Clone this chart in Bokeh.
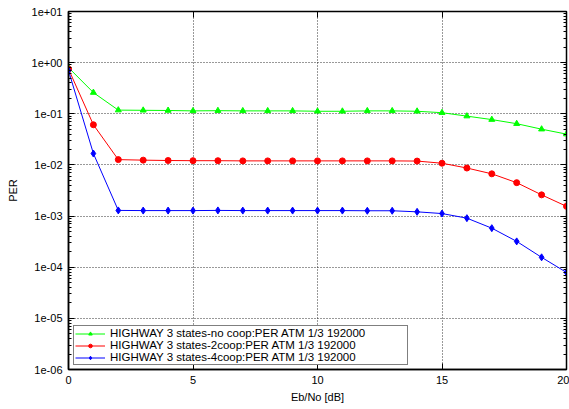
from bokeh.plotting import figure
from bokeh.models import (LogAxis, LinearAxis, CustomJSTickFormatter, Legend, LegendItem,
                          FixedTicker, LogTicker, ColumnDataSource)
from bokeh.embed import file_html
from bokeh.resources import INLINE

# ---- data ----
ebno = [0, 1, 2, 3, 4, 5, 6, 7, 8, 9, 10, 11, 12, 13, 14, 15, 16, 17, 18, 19, 20]
per_nocoop = [0.80, 0.26, 0.118, 0.117, 0.116, 0.114, 0.115, 0.114, 0.114, 0.114, 0.112,
              0.112, 0.114, 0.114, 0.112, 0.105, 0.090, 0.077, 0.064, 0.050, 0.040]
per_2coop = [0.75, 0.061, 0.0127, 0.0124, 0.0122, 0.0121, 0.0121, 0.0120, 0.0120, 0.0120, 0.0120,
             0.0120, 0.0120, 0.0120, 0.0119, 0.0108, 0.0087, 0.0067, 0.0045, 0.0026, 0.00155]
per_4coop = [0.70, 0.0167, 0.00129, 0.00128, 0.00128, 0.00128, 0.00129, 0.00128, 0.00128, 0.00128, 0.00128,
             0.00128, 0.00127, 0.00127, 0.00121, 0.00112, 0.00091, 0.00058, 0.00032, 0.000156, 0.000079]
labels = ["HIGHWAY 3 states-no coop:PER ATM 1/3 192000",
          "HIGHWAY 3 states-2coop:PER ATM 1/3 192000",
          "HIGHWAY 3 states-4coop:PER ATM 1/3 192000"]
x_ticks = [0, 5, 10, 15, 20]

FONT = "Liberation Sans"

p = figure(width=569, height=409, y_axis_type="log", x_range=(0, 20), y_range=(1e-6, 10),
           output_backend="svg", toolbar_location=None,
           min_border_left=68, min_border_right=3, min_border_top=11, min_border_bottom=40)
p.background_fill_color = "white"
p.border_fill_color = "white"
p.outline_line_color = "black"
p.outline_line_width = 1.5

fmt = CustomJSTickFormatter(code="""
var s = tick.toExponential(0);
return s.replace(/e([+-])(\\d)$/, 'e$10$2');
""")
blank = CustomJSTickFormatter(code="return '';")

# left / bottom axes
p.yaxis.formatter = fmt
p.yaxis.ticker = LogTicker(num_minor_ticks=10)
p.xaxis.ticker = FixedTicker(ticks=x_ticks)
for ax in [p.xaxis[0], p.yaxis[0]]:
    ax.major_tick_in = 6
    ax.major_tick_out = 0
    ax.minor_tick_in = 3
    ax.minor_tick_out = 0
    ax.axis_line_color = "black"
    ax.axis_line_width = 1.5
    ax.major_tick_line_color = "black"
    ax.minor_tick_line_color = "black"
    ax.major_label_text_font = FONT
    ax.major_label_text_font_size = "11px"
    ax.major_label_text_color = "black"
    ax.axis_label_text_font = FONT
    ax.axis_label_text_font_size = "11px"
    ax.axis_label_text_font_style = "normal"
    ax.axis_label_text_color = "black"
p.xaxis.minor_tick_line_color = None
p.xaxis.axis_label = "Eb/No [dB]"
p.yaxis.axis_label = "PER"
p.xaxis.major_label_standoff = 6
p.yaxis.major_label_standoff = 6
p.xaxis.axis_label_standoff = 4
p.yaxis.axis_label_standoff = 10

# mirrored axes (ticks only)
rax = LogAxis(ticker=LogTicker(num_minor_ticks=10), formatter=blank,
              major_label_text_font_size="1px",
              major_tick_in=6, major_tick_out=0, minor_tick_in=3, minor_tick_out=0,
              axis_line_color="black", major_label_standoff=0)
tax = LinearAxis(ticker=FixedTicker(ticks=x_ticks), formatter=blank,
                 major_label_text_font_size="1px",
                 major_tick_in=6, major_tick_out=0, minor_tick_line_color=None,
                 axis_line_color="black", major_label_standoff=0)
p.add_layout(rax, "right")
p.add_layout(tax, "above")

# grids
for g in [p.xgrid[0], p.ygrid[0]]:
    g.grid_line_color = "black"
    g.grid_line_dash = "1 2"
    g.grid_line_width = 1
    g.grid_line_alpha = 0.8
p.ygrid.minor_grid_line_color = None

src = ColumnDataSource(dict(x=ebno, a=per_nocoop, b=per_2coop, c=per_4coop))

l1 = p.line("x", "a", source=src, color="#00ff00", line_width=1)
m1 = p.scatter("x", "a", source=src, marker="triangle", size=6, color="#00ff00")
l2 = p.line("x", "b", source=src, color="#ff0000", line_width=1)
m2 = p.scatter("x", "b", source=src, marker="circle", size=6, color="#ff0000")
l3 = p.line("x", "c", source=src, color="#0000ff", line_width=1)
m3 = p.scatter("x", "c", source=src, marker="diamond", size=7, color="#0000ff")

legend = Legend(items=[LegendItem(label=labels[0], renderers=[l1, m1]),
                       LegendItem(label=labels[1], renderers=[l2, m2]),
                       LegendItem(label=labels[2], renderers=[l3, m3])],
                location=(5, 4))
legend.label_text_font = FONT
legend.label_text_font_size = "11.5px"
legend.label_text_color = "black"
legend.label_height = 9
legend.glyph_height = 9
legend.glyph_width = 30
legend.label_width = 296
legend.label_standoff = 5
legend.spacing = 0
legend.padding = 1
legend.margin = 0
legend.border_line_color = "black"
legend.border_line_width = 1
legend.background_fill_color = "white"
legend.background_fill_alpha = 1
p.add_layout(legend, "center")

open("out.html", "w").write(file_html(p, INLINE))
